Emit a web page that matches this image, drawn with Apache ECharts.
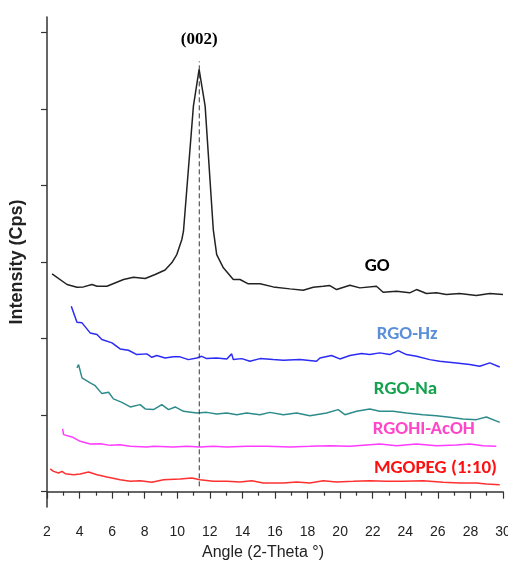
<!DOCTYPE html>
<html>
<head>
<meta charset="utf-8">
<script src="https://cdn.jsdelivr.net/npm/echarts@6/dist/echarts.min.js"></script>
<style>
    html, body { margin: 0; padding: 0; background: #fff; }
    #xrd_chart { width: 508px; height: 563px; }
</style>
</head>
<body>
<div id="xrd_chart"></div>
<script>
    // x ticks (2-Theta) and y tick positions (no labels shown)
    var xTicks = [2, 4, 6, 8, 10, 12, 14, 16, 18, 20, 22, 24, 26, 28, 30];
    var yTicks = [0, 1000, 2000, 3000, 4000, 5000, 6000];

    // GO
    var goData = [
        [2.31, 2845], [3.23, 2706], [3.84, 2671], [4.24, 2675], [4.76, 2706], [5.07, 2684],
        [5.68, 2684], [6.70, 2771], [7.31, 2801], [8.03, 2784], [8.64, 2836], [9.25, 2895],
        [9.66, 2989], [9.97, 3097], [10.28, 3294], [10.38, 3402], [10.99, 5036], [11.34, 5516],
        [11.71, 5036], [12.21, 3424], [12.42, 3097], [12.83, 2924], [13.44, 2771], [13.85, 2771],
        [14.36, 2715], [15.08, 2715], [15.89, 2675], [16.92, 2649], [17.73, 2631], [18.35, 2670],
        [18.96, 2683], [19.37, 2692], [19.78, 2640], [20.60, 2696], [21.21, 2662], [22.23, 2683],
        [22.64, 2605], [23.46, 2618], [24.27, 2597], [24.69, 2640], [25.30, 2588], [25.91, 2597],
        [26.52, 2575], [27.34, 2588], [28.36, 2562], [29.19, 2588], [30.0, 2575]
    ];
    // RGO-Hz
    var hzData = [
        [3.49, 2422], [3.84, 2213], [4.15, 2205], [4.65, 2074], [5.07, 2052], [5.37, 1987],
        [5.99, 1944], [6.49, 1865], [7.00, 1847], [7.52, 1791], [8.13, 1800], [8.44, 1755],
        [8.74, 1778], [9.25, 1747], [9.76, 1761], [10.17, 1761], [10.68, 1725], [11.20, 1747],
        [11.50, 1768], [11.81, 1738], [12.42, 1747], [13.04, 1734], [13.34, 1800], [13.44, 1725],
        [13.96, 1738], [14.46, 1703], [15.08, 1738], [15.89, 1725], [16.51, 1716], [17.53, 1725],
        [18.55, 1703], [18.76, 1747], [19.47, 1778], [19.98, 1734], [20.60, 1778], [21.31, 1804],
        [21.82, 1791], [22.43, 1813], [23.05, 1791], [23.56, 1843], [24.07, 1791], [24.69, 1768],
        [25.50, 1725], [26.11, 1703], [27.14, 1682], [27.96, 1660], [28.57, 1638], [29.19, 1682],
        [29.80, 1629]
    ];
    // RGO-Na
    var naData = [
        [3.84, 1617], [3.94, 1660], [4.15, 1486], [4.65, 1421], [4.96, 1385], [5.37, 1281],
        [5.78, 1298], [6.08, 1212], [6.60, 1167], [7.11, 1107], [7.72, 1137], [8.03, 1081],
        [8.54, 1072], [9.05, 1137], [9.46, 1072], [9.87, 1107], [10.38, 1050], [11.20, 1029],
        [11.81, 1036], [12.42, 1016], [13.04, 1029], [13.65, 1006], [14.26, 1029], [15.08, 1006],
        [15.69, 1036], [16.51, 1006], [17.33, 1029], [18.14, 993], [19.17, 1029], [19.88, 1072],
        [20.29, 1006], [21.01, 1050], [21.82, 1081], [22.43, 1050], [23.25, 1050], [24.07, 1029],
        [25.09, 1006], [25.91, 993], [26.73, 971], [27.54, 950], [28.36, 941], [28.98, 976],
        [29.80, 906]
    ];
    // RGOHI-AcOH
    var hiData = [
        [2.96, 819], [3.02, 745], [3.53, 715], [4.04, 658], [4.65, 623], [5.27, 627],
        [5.88, 605], [6.49, 614], [7.11, 592], [8.13, 584], [8.23, 558], [8.54, 592],
        [9.76, 584], [10.58, 592], [11.40, 584], [12.21, 592], [13.04, 584], [14.26, 592],
        [15.49, 592], [16.92, 584], [18.14, 592], [19.37, 601], [20.60, 592], [21.82, 614],
        [22.43, 623], [23.46, 601], [24.69, 623], [25.91, 601], [27.14, 610], [27.96, 623],
        [28.77, 601], [29.59, 592]
    ];
    // MGOPEG (1:10)
    var pegData = [
        [2.20, 297], [2.40, 265], [2.71, 244], [2.92, 265], [3.12, 235], [3.63, 222],
        [4.04, 231], [4.55, 257], [5.07, 222], [5.68, 192], [6.49, 157], [7.11, 135],
        [7.72, 144], [8.44, 122], [9.15, 157], [10.17, 166], [10.89, 179], [11.40, 157],
        [12.21, 135], [13.04, 135], [13.85, 127], [14.57, 144], [15.28, 114], [16.51, 114],
        [17.33, 127], [18.14, 114], [18.96, 144], [19.78, 127], [20.80, 135], [21.82, 144],
        [22.85, 135], [23.86, 135], [25.09, 144], [26.32, 122], [27.34, 114], [28.36, 114],
        [28.98, 101], [29.80, 92]
    ];

    // (002) reflection marker
    var peakX = 11.35;
    var peakLine = [[peakX, 70], [peakX, 5620]];
    var peakLabel = '(002)';

    // curve names and where their labels sit
    var seriesNames = ['GO', 'RGO-Hz', 'RGO-Na', 'RGOHI-AcOH', 'MGOPEG (1:10)'];
    var labelX = [22.27, 24.11, 24.01, 25.13, 25.85];
    var labelY = [2941, 2061, 1333, 819, 310];

    var lineColors = ['#222222', '#2b2bf5', '#2e8b8b', '#ff3cff', '#ff3030'];
    var textColors = ['#000000', '#5b8fd8', '#12a24e', '#ff45c8', '#ff1010'];
    var curveData = [goData, hzData, naData, hiData, pegData];

    var labelFont = 'Carlito, Calibri, "Liberation Sans Narrow", Lato, sans-serif';
    var axisFont = '"Liberation Sans Narrow", "Arial Narrow", "Liberation Sans", Arial, sans-serif';

    var series = curveData.map(function (d, i) {
        return {
            name: seriesNames[i],
            type: 'line',
            data: d,
            showSymbol: false,
            lineStyle: { color: lineColors[i], width: 1.5 },
            markPoint: {
                symbol: 'circle',
                symbolSize: 1,
                itemStyle: { color: 'transparent' },
                label: {
                    show: true,
                    position: 'inside',
                    formatter: seriesNames[i],
                    color: textColors[i],
                    fontFamily: labelFont,
                    fontSize: 19,
                    fontWeight: i === 0 || i === 4 ? 'bold' : 600
                },
                data: [{ coord: [labelX[i], labelY[i]] }]
            }
        };
    });

    series.push({
        name: 'peak',
        type: 'line',
        data: peakLine,
        showSymbol: false,
        lineStyle: { color: '#333', width: 1, type: [5, 3] },
        markPoint: {
            symbol: 'circle',
            symbolSize: 1,
            itemStyle: { color: 'transparent' },
            label: {
                show: true,
                position: 'inside',
                formatter: peakLabel,
                color: '#000',
                fontFamily: '"Liberation Serif", "Times New Roman", serif',
                fontSize: 17,
                fontWeight: 'bold'
            },
            data: [{ coord: [peakX, 5908] }]
        }
    });

    var option = {
        animation: false,
        backgroundColor: '#fff',
        grid: { left: 47, right: 5, top: 17, bottom: 56, outerBoundsMode: 'none', containLabel: false },
        xAxis: {
            type: 'value',
            min: xTicks[0],
            max: xTicks[xTicks.length - 1],
            interval: 2,
            name: 'Angle (2-Theta °)',
            nameLocation: 'middle',
            nameGap: 38,
            nameTextStyle: {
                color: '#222',
                fontFamily: axisFont,
                fontSize: 16,
                padding: [0, 24, 0, 0]
            },
            axisLine: { lineStyle: { color: '#333', width: 1.5 } },
            axisTick: { inside: false, length: 7, lineStyle: { color: '#333', width: 1.2 } },
            minorTick: { show: true, splitNumber: 2, length: 4, lineStyle: { color: '#333', width: 1.2 } },
            axisLabel: { color: '#222', fontFamily: axisFont, fontSize: 14, margin: 18 },
            splitLine: { show: false }
        },
        yAxis: {
            type: 'value',
            min: -200,
            max: 6200,
            name: 'Intensity (Cps)',
            nameLocation: 'middle',
            nameGap: 21,
            nameTextStyle: {
                color: '#222',
                fontFamily: '"Liberation Sans", Arial, sans-serif',
                fontSize: 18,
                fontWeight: 'bold'
            },
            axisLine: { show: true, lineStyle: { color: '#333', width: 1.5 } },
            axisTick: {
                show: true,
                length: 6,
                customValues: yTicks,
                lineStyle: { color: '#333', width: 1.2 }
            },
            axisLabel: { show: false },
            splitLine: { show: false }
        },
        series: series
    };

    var chartXrd = echarts.init(document.getElementById('xrd_chart'));
    chartXrd.setOption(option);
</script>
</body>
</html>
